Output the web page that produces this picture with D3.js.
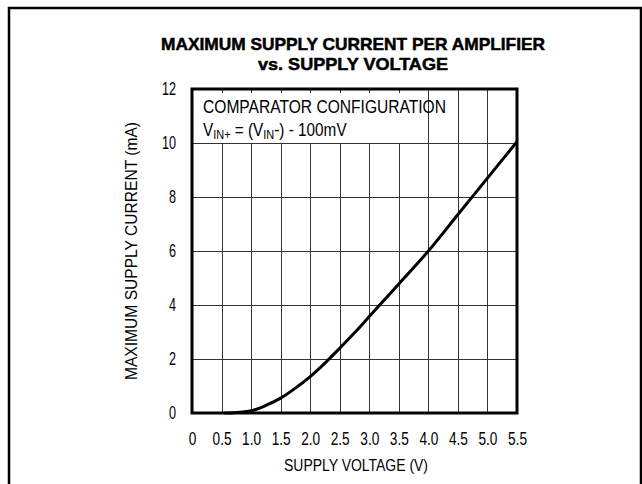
<!DOCTYPE html>
<html>
<head>
<meta charset="utf-8">
<script src="https://cdn.jsdelivr.net/npm/d3@7"></script>
<style>
  html, body { margin: 0; padding: 0; background: #fff; }
  svg { display: block; }
  text { font-family: "Liberation Sans", Arial, "Roboto", sans-serif; fill: #000; }
</style>
</head>
<body>
<svg id="chart" width="642" height="484"></svg>
<script>
// Supply voltage (V) and maximum supply current per amplifier (mA)
const voltage = [0.55, 0.7, 0.85, 1.0, 1.25, 1.5, 1.75, 2.0, 2.25, 2.5, 2.75, 3.0, 3.5, 4.0, 4.5, 5.0, 5.5];
const current = [0, 0.01, 0.04, 0.08, 0.28, 0.55, 0.92, 1.35, 1.85, 2.4, 2.97, 3.57, 4.78, 6.0, 7.35, 8.7, 10.05];

const xTicks = [0, 0.5, 1.0, 1.5, 2.0, 2.5, 3.0, 3.5, 4.0, 4.5, 5.0, 5.5];
const yTicks = [0, 2, 4, 6, 8, 10, 12];
const titleLines = ["MAXIMUM SUPPLY CURRENT PER AMPLIFIER", "vs. SUPPLY VOLTAGE"];
const xTitle = "SUPPLY VOLTAGE (V)";
const yTitle = "MAXIMUM SUPPLY CURRENT (mA)";

const svg = d3.select("#chart");
const plot = { left: 192, right: 517, top: 89, bottom: 413 };

const x = d3.scaleLinear().domain([0, 5.5]).range([plot.left, plot.right]);
const y = d3.scaleLinear().domain([0, 12]).range([plot.bottom, plot.top]);

// horizontally compress a text element about its anchor point
function squeeze(sel, factor) {
  sel.each(function () {
    const t = d3.select(this);
    const tx = +t.attr("x") || 0, ty = +t.attr("y") || 0;
    t.attr("x", 0).attr("y", 0)
      .attr("transform", `translate(${tx},${ty}) scale(${factor},1)`);
  });
}

// outer frame
svg.append("rect")
  .attr("x", 9).attr("y", 8).attr("width", 632).attr("height", 490)
  .attr("fill", "none").attr("stroke", "#000").attr("stroke-width", 2.5);

// title
svg.append("text").attr("x", 353).attr("y", 50).attr("text-anchor", "middle")
  .attr("font-size", 17).attr("font-weight", "bold")
  .attr("stroke", "#000").attr("stroke-width", 0.5)
  .attr("textLength", 384).attr("lengthAdjust", "spacingAndGlyphs")
  .text(titleLines[0]);
svg.append("text").attr("x", 353).attr("y", 70).attr("text-anchor", "middle")
  .attr("font-size", 17).attr("font-weight", "bold")
  .attr("stroke", "#000").attr("stroke-width", 0.5)
  .attr("textLength", 190).attr("lengthAdjust", "spacingAndGlyphs")
  .text(titleLines[1]);

// grid
const grid = svg.append("g").attr("stroke", "#333").attr("stroke-width", 1).attr("shape-rendering", "crispEdges");
grid.selectAll("line.v").data(xTicks.slice(1, -1)).join("line")
  .attr("x1", d => Math.round(x(d)) + 0.5).attr("x2", d => Math.round(x(d)) + 0.5)
  .attr("y1", plot.top).attr("y2", plot.bottom);
grid.selectAll("line.h").data(yTicks.slice(1, -1)).join("line")
  .attr("y1", d => Math.round(y(d)) + 0.5).attr("y2", d => Math.round(y(d)) + 0.5)
  .attr("x1", plot.left).attr("x2", plot.right);

// annotation panel over the upper-left grid cells
const noteRight = x(4.0) - 1;
svg.append("rect")
  .attr("x", plot.left + 1).attr("y", plot.top + 1)
  .attr("width", noteRight - plot.left - 1).attr("height", Math.round(y(10)) - plot.top - 1)
  .attr("fill", "#fff");
// short inward ticks along the top edge
svg.append("g").attr("stroke", "#333").attr("shape-rendering", "crispEdges")
  .selectAll("line").data(xTicks.filter(d => d > 0 && d < 4.0)).join("line")
  .attr("x1", d => Math.round(x(d)) + 0.5).attr("x2", d => Math.round(x(d)) + 0.5)
  .attr("y1", plot.top).attr("y2", plot.top + 4);

const note = svg.append("g").attr("font-size", 17.5);
note.append("text").attr("x", 203).attr("y", 113)
  .attr("textLength", 243).attr("lengthAdjust", "spacingAndGlyphs")
  .text("COMPARATOR CONFIGURATION");
const l2 = note.append("text").attr("x", 203).attr("y", 136);
l2.append("tspan").text("V");
l2.append("tspan").attr("font-size", 12.5).attr("dy", 3).text("IN+");
l2.append("tspan").attr("dy", -3).text(" = (V");
l2.append("tspan").attr("font-size", 12.5).attr("dy", 3).text("IN");
l2.append("tspan").attr("dy", -3).text("-) - 100mV");
l2.call(squeeze, 144 / l2.node().getBBox().width);

// curve
const pts = voltage.map((v, i) => [v, current[i]]);
svg.append("path").datum(pts)
  .attr("fill", "none").attr("stroke", "#000").attr("stroke-width", 3)
  .attr("stroke-linejoin", "round")
  .attr("d", d3.line().x(d => x(d[0])).y(d => y(d[1])).curve(d3.curveMonotoneX));

// plot border
svg.append("rect")
  .attr("x", plot.left).attr("y", plot.top)
  .attr("width", plot.right - plot.left).attr("height", plot.bottom - plot.top)
  .attr("fill", "none").attr("stroke", "#000").attr("stroke-width", 3);

// axes (labels only)
const xAxis = svg.append("g").attr("transform", `translate(0,${plot.bottom + 17})`)
  .call(d3.axisBottom(x).tickValues(xTicks).tickSize(0)
    .tickFormat(d => d === 0 ? "0" : d3.format(".1f")(d)));
xAxis.select(".domain").remove();
xAxis.selectAll("text").attr("font-size", 17.5).attr("font-family", null).attr("dy", "0.71em")
  .call(squeeze, 0.78);

const yAxis = svg.append("g").attr("transform", `translate(${plot.left - 16},0)`)
  .call(d3.axisLeft(y).tickValues(yTicks).tickSize(0));
yAxis.select(".domain").remove();
yAxis.selectAll("text").attr("font-size", 17.5).attr("font-family", null).attr("x", 0)
  .call(squeeze, 0.72);

svg.append("text").attr("x", 356).attr("y", 471).attr("text-anchor", "middle")
  .attr("font-size", 17).attr("textLength", 144).attr("lengthAdjust", "spacingAndGlyphs")
  .text(xTitle);
svg.append("text").attr("transform", "translate(137,251) rotate(-90)").attr("text-anchor", "middle")
  .attr("font-size", 17).attr("textLength", 258).attr("lengthAdjust", "spacingAndGlyphs")
  .text(yTitle);
</script>
</body>
</html>
